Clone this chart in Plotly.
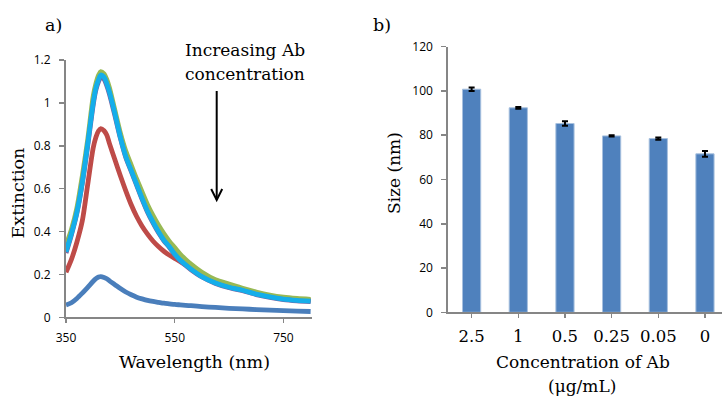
import plotly.graph_objects as go

W, H = 722, 396

# ---------------- Data: panel a) extinction spectra ----------------
wavelength = [350, 360, 370, 380, 390, 400, 405, 410, 414, 420, 425, 430, 440, 450, 460, 470,
              480, 490, 500, 510, 520, 530, 540, 550, 560, 570, 580, 600, 625, 650, 675, 700,
              725, 750, 775, 800]

ext_blue = [0.057, 0.068, 0.088, 0.113, 0.14, 0.168, 0.18, 0.188, 0.19, 0.186, 0.18, 0.17,
            0.152, 0.134, 0.118, 0.105, 0.094, 0.086, 0.079, 0.074, 0.07, 0.066, 0.063, 0.06,
            0.058, 0.056, 0.054, 0.05, 0.046, 0.042, 0.039, 0.036, 0.033, 0.031, 0.029, 0.027]

ext_red = [0.21, 0.27, 0.35, 0.45, 0.62, 0.79, 0.84, 0.87, 0.88, 0.87, 0.85, 0.81,
           0.735, 0.66, 0.59, 0.525, 0.47, 0.425, 0.388, 0.356, 0.33, 0.308, 0.29, 0.274,
           0.26, 0.246, 0.232, 0.199, 0.165, 0.145, 0.13, 0.112, 0.099, 0.089, 0.083, 0.079]

ext_green = [0.337, 0.41, 0.51, 0.66, 0.83, 1.03, 1.09, 1.13, 1.146, 1.135, 1.11, 1.07,
             0.965, 0.86, 0.775, 0.71, 0.645, 0.585, 0.525, 0.475, 0.43, 0.39, 0.355, 0.325,
             0.295, 0.27, 0.248, 0.21, 0.175, 0.155, 0.135, 0.118, 0.104, 0.094, 0.088, 0.084]

ext_purple = [0.30, 0.385, 0.485, 0.625, 0.80, 0.99, 1.06, 1.10, 1.12, 1.11, 1.08, 1.04,
              0.94, 0.835, 0.745, 0.68, 0.615, 0.55, 0.49, 0.44, 0.395, 0.357, 0.327, 0.292,
              0.264, 0.242, 0.222, 0.188, 0.158, 0.138, 0.124, 0.106, 0.093, 0.083, 0.077, 0.073]

ext_cyan = [0.306, 0.39, 0.49, 0.63, 0.81, 1.0, 1.07, 1.11, 1.13, 1.12, 1.09, 1.05,
            0.95, 0.84, 0.75, 0.685, 0.62, 0.555, 0.495, 0.445, 0.40, 0.36, 0.33, 0.295,
            0.267, 0.245, 0.225, 0.19, 0.16, 0.14, 0.126, 0.108, 0.095, 0.085, 0.079, 0.075]

a_yticks = [0, 0.2, 0.4, 0.6, 0.8, 1.0, 1.2]
a_yticklabels = ["0", "0.2", "0.4", "0.6", "0.8", "1", "1.2"]
a_xticks = [350, 550, 750]

# ---------------- Data: panel b) size ----------------
conc_labels = ["2.5", "1", "0.5", "0.25", "0.05", "0"]
size_nm = [100.8, 92.4, 85.3, 79.7, 78.5, 71.6]
size_err = [0.8, 0.4, 1.0, 0.3, 0.5, 1.3]
b_yticks = [0, 20, 40, 60, 80, 100, 120]

# ---------------- Styling ----------------
SERIF = "DejaVu Serif"
SANS = "Open Sans"
AXIS_GRAY = "#868686"

def px(x):
    return x / W

def py(y):
    return 1 - y / H

fig = go.Figure()

series = [
    (ext_blue, "#4A7EBB"),
    (ext_red, "#BE4B48"),
    (ext_green, "#98B954"),
    (ext_purple, "#7D60A0"),
    (ext_cyan, "#14AEEA"),
]
for vals, col in series:
    fig.add_trace(go.Scatter(
        x=wavelength, y=vals, mode="lines",
        line=dict(color=col, width=4.8, shape="spline", smoothing=0.8),
        xaxis="x", yaxis="y", showlegend=False, hoverinfo="skip",
    ))

fig.add_trace(go.Bar(
    x=list(range(len(conc_labels))), y=size_nm,
    width=0.39,
    marker=dict(color="#4F81BD", line=dict(color="#A7C0DE", width=1)),
    error_y=dict(type="data", array=size_err, visible=True, color="black",
                 thickness=2, width=3),
    xaxis="x2", yaxis="y2", showlegend=False, hoverinfo="skip",
))

common = dict(showgrid=False, zeroline=False, automargin=False,
              showline=True, linecolor=AXIS_GRAY, linewidth=2,
              ticks="outside", tickwidth=1.5, tickcolor=AXIS_GRAY)

fig.update_layout(
    template="none",
    width=W, height=H,
    margin=dict(l=0, r=0, t=0, b=0, autoexpand=False),
    paper_bgcolor="white", plot_bgcolor="white",
    showlegend=False,
    xaxis=dict(
        domain=[px(66), px(311.7)], anchor="y",
        range=[350, 802], tickvals=a_xticks, ticktext=[str(v) for v in a_xticks],
        ticklen=4, tickfont=dict(family=SANS, size=12, color="black"),
        ticklabelstandoff=4, **common,
    ),
    yaxis=dict(
        domain=[py(317.3), py(60)], anchor="x",
        range=[0, 1.2], tickvals=a_yticks, ticktext=a_yticklabels,
        ticklen=5, tickfont=dict(family=SANS, size=12, color="black"),
        ticklabelstandoff=6, **common,
    ),
    xaxis2=dict(
        domain=[px(448.3), 1.0], anchor="y2",
        range=[-0.5, 5.365],
        tickvals=list(range(len(conc_labels))), ticktext=conc_labels,
        tickson="boundaries",
        ticklen=4, tickfont=dict(family=SERIF, size=16.5, color="black"),
        ticklabelstandoff=4, **common,
    ),
    yaxis2=dict(
        domain=[py(312.3), py(46.7)], anchor="x2",
        range=[0, 120], tickvals=b_yticks,
        ticklen=5, tickfont=dict(family=SANS, size=12, color="black"),
        ticklabelstandoff=6, **common,
    ),
)

def text(x, y, s, size=17.5, angle=0):
    fig.add_annotation(
        x=px(x), y=py(y), xref="paper", yref="paper", text=s, showarrow=False,
        xanchor="center", yanchor="middle", textangle=angle,
        font=dict(family=SERIF, size=size, color="black"),
    )

text(54, 25, "a)", 17.5)
text(382, 25, "b)", 17.5)
text(194, 362, "Wavelength (nm)", 17.5)
text(17.5, 193, "Extinction", 17.5, angle=-90)
text(245.5, 50, "Increasing Ab", 17)
text(245.5, 74, "concentration", 17)
text(582.5, 362, "Concentration of Ab", 17)
text(582, 386, "(\u03bcg/mL)", 17)
text(394, 173, "Size (nm)", 17, angle=-90)

# arrow
fig.add_shape(type="line", xref="paper", yref="paper",
              x0=px(216.7), y0=py(91), x1=px(216.7), y1=py(199.5),
              line=dict(color="black", width=2))
fig.add_shape(type="path", xref="paper", yref="paper",
              path=f"M {px(211.2)},{py(189)} L {px(216.7)},{py(200)} L {px(222.2)},{py(189)}",
              line=dict(color="black", width=2))

fig.write_html(
    "out.html",
    config={"displayModeBar": False, "staticPlot": True},
    post_script="document.body.style.margin='0';document.body.style.overflow='hidden';",
)
